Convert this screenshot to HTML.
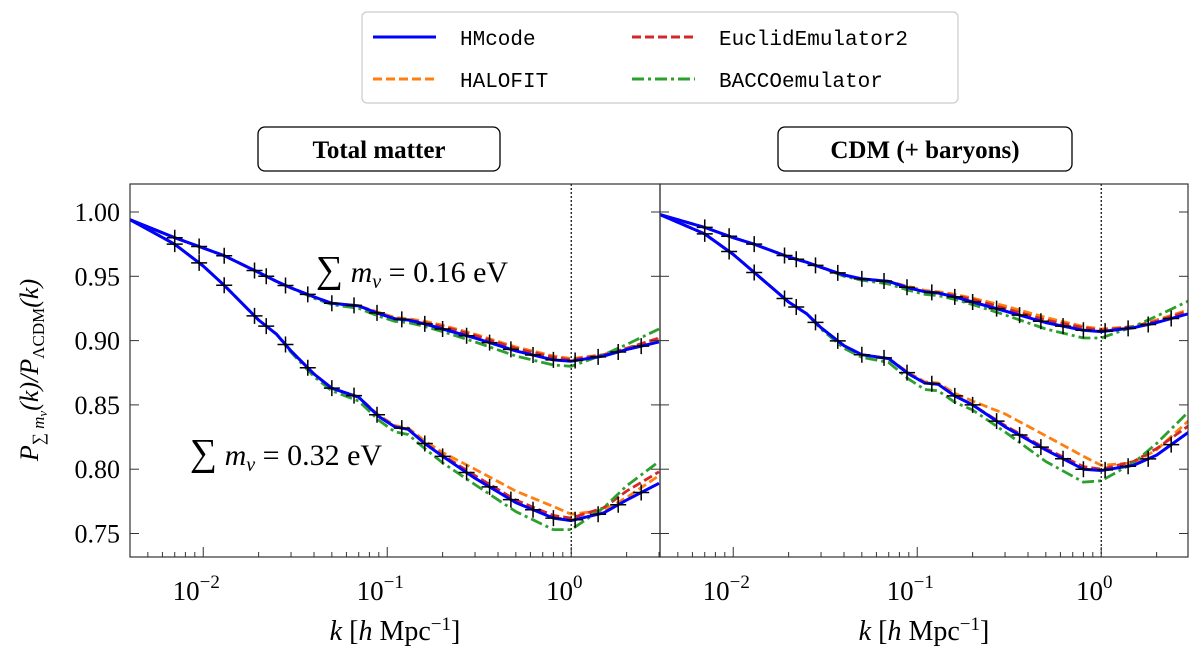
<!DOCTYPE html>
<html><head><meta charset="utf-8"><style>
body{margin:0;background:#fff;}
svg text{font-family:"Liberation Serif",serif;}
.mono{font-family:"Liberation Mono",monospace;}
</style></head><body>
<svg id="chart" width="1200" height="657" viewBox="0 0 1200 657" xmlns="http://www.w3.org/2000/svg">
<g>
<rect x="362" y="12" width="596" height="91" rx="5" fill="#fff" stroke="#ccc" stroke-width="1.2"/>
<g><line x1="373" y1="37" x2="436" y2="37" stroke="#0000ff" stroke-width="3"/><text class="mono" x="460" y="45" font-size="21">HMcode</text></g>
<g><line x1="373" y1="79" x2="436" y2="79" stroke="#ff7f0e" stroke-width="3" stroke-dasharray="9,4"/><text class="mono" x="460" y="87" font-size="21">HALOFIT</text></g>
<g><line x1="632" y1="37" x2="695" y2="37" stroke="#d62728" stroke-width="3" stroke-dasharray="9,4"/><text class="mono" x="719" y="45" font-size="21">EuclidEmulator2</text></g>
<g><line x1="632" y1="79" x2="695" y2="79" stroke="#2ca02c" stroke-width="3" stroke-dasharray="12,4,3,4"/><text class="mono" x="719" y="87" font-size="21">BACCOemulator</text></g>
</g>
<g><rect x="258" y="127" width="242" height="44" rx="7" fill="#fff" stroke="#000" stroke-width="1.3"/><text x="379" y="158" font-size="25" font-weight="bold" text-anchor="middle">Total matter</text></g>
<g><rect x="778" y="127" width="294" height="44" rx="7" fill="#fff" stroke="#000" stroke-width="1.3"/><text x="925" y="158" font-size="25" font-weight="bold" text-anchor="middle">CDM (+ baryons)</text></g>
<text transform="translate(38,370) rotate(-90)" font-size="26" text-anchor="middle" font-style="italic">P<tspan font-size="17" dy="6">∑ m</tspan><tspan font-size="13" dy="3">ν</tspan><tspan dy="-9">(k)/P</tspan><tspan font-size="17" dy="6" font-style="normal">ΛCDM</tspan><tspan dy="-6">(k)</tspan></text>
<g id="plots"></g>
</svg>
<script>
// shared x grid (k in h/Mpc)
const kL = [0.004,0.007,0.01,0.013,0.02,0.025,0.03,0.04,0.05,0.07,0.09,0.11,0.13,0.16,0.2,0.3,0.5,0.8,1.0,1.5,2,3];
// Total matter, sum m_nu = 0.16 eV
const tm16_hm  = [0.994,0.980,0.972,0.966,0.953,0.946,0.941,0.934,0.929,0.927,0.921,0.917,0.916,0.913,0.909,0.902,0.892,0.885,0.884,0.888,0.893,0.899];
const tm16_hf  = [0.994,0.980,0.972,0.966,0.953,0.946,0.941,0.934,0.929,0.927,0.922,0.918,0.917,0.915,0.912,0.905,0.895,0.888,0.886,0.889,0.894,0.901];
const tm16_ee  = [0.994,0.980,0.972,0.966,0.953,0.946,0.941,0.934,0.929,0.927,0.921,0.917,0.916,0.914,0.911,0.904,0.894,0.887,0.885,0.889,0.894,0.902];
const tm16_bc  = [0.994,0.980,0.972,0.966,0.953,0.946,0.941,0.933,0.928,0.925,0.919,0.915,0.914,0.911,0.907,0.899,0.888,0.881,0.880,0.889,0.897,0.909];
// Total matter, 0.32 eV
const tm32_hm  = [0.994,0.975,0.958,0.943,0.916,0.905,0.892,0.874,0.863,0.856,0.841,0.833,0.831,0.820,0.810,0.793,0.774,0.762,0.760,0.766,0.776,0.789];
const tm32_hf  = [0.994,0.975,0.958,0.943,0.916,0.905,0.892,0.874,0.863,0.856,0.842,0.834,0.832,0.822,0.813,0.800,0.783,0.771,0.765,0.768,0.778,0.795];
const tm32_ee  = [0.994,0.975,0.958,0.943,0.916,0.905,0.892,0.874,0.863,0.856,0.841,0.833,0.831,0.820,0.811,0.795,0.776,0.764,0.762,0.770,0.783,0.798];
const tm32_bc  = [0.994,0.975,0.958,0.943,0.916,0.905,0.891,0.872,0.861,0.853,0.838,0.829,0.827,0.816,0.805,0.788,0.767,0.753,0.753,0.770,0.787,0.806];
// CDM, 0.16 eV
const cd16_hm  = [0.998,0.988,0.980,0.975,0.965,0.961,0.957,0.951,0.948,0.946,0.941,0.938,0.937,0.934,0.930,0.923,0.914,0.908,0.907,0.910,0.914,0.921];
const cd16_hf  = [0.998,0.988,0.980,0.975,0.965,0.961,0.957,0.951,0.948,0.946,0.942,0.939,0.938,0.936,0.933,0.927,0.918,0.911,0.909,0.911,0.916,0.924];
const cd16_ee  = [0.998,0.988,0.980,0.975,0.965,0.961,0.957,0.951,0.948,0.946,0.941,0.938,0.937,0.935,0.932,0.925,0.916,0.910,0.908,0.911,0.915,0.923];
const cd16_bc  = [0.998,0.988,0.980,0.975,0.965,0.961,0.957,0.950,0.947,0.944,0.939,0.936,0.935,0.932,0.928,0.920,0.909,0.902,0.902,0.911,0.919,0.931];
// CDM, 0.32 eV
const cd32_hm  = [0.998,0.983,0.967,0.953,0.930,0.921,0.910,0.896,0.889,0.886,0.874,0.867,0.866,0.857,0.850,0.833,0.815,0.800,0.799,0.803,0.811,0.829];
const cd32_hf  = [0.998,0.983,0.967,0.953,0.930,0.921,0.910,0.896,0.889,0.886,0.875,0.868,0.867,0.859,0.853,0.843,0.826,0.810,0.803,0.805,0.815,0.838];
const cd32_ee  = [0.998,0.983,0.967,0.953,0.930,0.921,0.910,0.896,0.889,0.886,0.874,0.867,0.866,0.857,0.850,0.834,0.816,0.802,0.800,0.806,0.816,0.834];
const cd32_bc  = [0.998,0.983,0.967,0.953,0.930,0.921,0.909,0.894,0.887,0.883,0.870,0.862,0.861,0.852,0.846,0.829,0.806,0.790,0.791,0.805,0.820,0.845];
// simulation markers (k)
const markerK = [0.007,0.0095,0.013,0.019,0.022,0.028,0.037,0.05,0.066,0.088,0.12,0.16,0.2,0.27,0.36,0.47,0.62,0.8,1.05,1.4,1.8,2.4];
const yTicks = [0.75,0.80,0.85,0.90,0.95,1.00];
const yTickLabels = ["0.75","0.80","0.85","0.90","0.95","1.00"];
const xTicks = [0.01,0.1,1];
const xTickLabels = ["−2","−1","0"];

const NS="http://www.w3.org/2000/svg";
const root=document.getElementById('plots');
function el(tag,attrs,parent){const e=document.createElementNS(NS,tag);for(const a in attrs)e.setAttribute(a,attrs[a]);(parent||root).appendChild(e);return e;}
const plotTop=184,plotBot=557;
function yS(v){return 212+(1-v)*1286;}
function interp(arr,k){const lk=Math.log10(k);for(let i=0;i<kL.length-1;i++){const a=Math.log10(kL[i]),b=Math.log10(kL[i+1]);if(lk>=a&&lk<=b){return arr[i]+(arr[i+1]-arr[i])*(lk-a)/(b-a);}}return arr[arr.length-1];}
function path(arr,xS){let d='';for(let i=0;i<kL.length;i++){d+=(i?'L':'M')+xS(kL[i]).toFixed(1)+','+yS(arr[i]).toFixed(1);}return d;}

function panel(name,x0,x1,sets,leftLabels){
  const xS=k=>x0+(Math.log10(k)+2.398)*184;
  const g=el('g',{});
  
  
  const cp=el('clipPath',{id:'c'+name},g);el('rect',{x:x0,y:plotTop,width:x1-x0,height:plotBot-plotTop},cp);
  const lines=el('g',{'clip-path':'url(#c'+name+')'},g);
  const styles=[['hf','#ff7f0e','9,4'],['ee','#d62728','9,4'],['bc','#2ca02c','12,4,3,4'],['hm','#0000ff','']];
  sets.forEach(s=>{
    styles.forEach(st=>{
      const p=el('path',{d:path(s[st[0]],xS),fill:'none',stroke:st[1],'stroke-width':st[0]==='hm'?3:2.8,'stroke-dasharray':st[2]||'none','stroke-linejoin':'round'},lines);
      
      
    });
    markerK.forEach(k=>{
      const x=xS(k),y=yS(interp(s.hm,k));
      const m=el('path',{d:`M${x-8},${y}H${x+8}M${x},${y-8}V${y+8}`,stroke:'#000','stroke-width':1.5},lines);
      
      
    });
  });
  const vl=el('line',{x1:xS(1),x2:xS(1),y1:plotTop,y2:plotBot,stroke:'#000','stroke-width':1.2,'stroke-dasharray':'2,2'},g);
  
  
  const fr=el('rect',{x:x0,y:plotTop,width:x1-x0,height:plotBot-plotTop,fill:'none',stroke:'#333','stroke-width':1.2},g);
  
  
  yTicks.forEach((v,i)=>{
    const y=yS(v);
    el('line',{x1:x0,x2:x0+9,y1:y,y2:y,stroke:'#333','stroke-width':1},g);
    el('line',{x1:x1,x2:x1-9,y1:y,y2:y,stroke:'#333','stroke-width':1},g);
    if(leftLabels){const t=el('text',{x:x0-10,y:y+9,'font-size':26,'text-anchor':'end'},g);t.textContent=yTickLabels[i];
      
      }
  });
  for(let d=-3;d<=0;d++)for(let m=1;m<10;m++){const k=m*Math.pow(10,d);const x=xS(k);if(x<x0||x>x1)continue;
    el('line',{x1:x,x2:x,y1:plotBot,y2:plotBot-(m===1?10:5),stroke:'#333','stroke-width':1},g);}
  xTicks.forEach((k,i)=>{
    const t=el('text',{x:xS(k)-7,y:600,'font-size':27,'text-anchor':'middle'},g);
    t.innerHTML='10<tspan font-size="19" dy="-12">'+xTickLabels[i]+'</tspan>';
    
    
  });
  const xt=el('text',{x:(x0+x1)/2,y:640,'font-size':28,'text-anchor':'middle'},g);
  xt.innerHTML='<tspan font-style="italic">k</tspan> [<tspan font-style="italic">h</tspan> Mpc<tspan font-size="19" dy="-10">−1</tspan><tspan dy="10">]</tspan>';
  
  
}
panel('total-matter-panel',130,660,[{id:'mnu016',hm:tm16_hm,hf:tm16_hf,ee:tm16_ee,bc:tm16_bc},{id:'mnu032',hm:tm32_hm,hf:tm32_hf,ee:tm32_ee,bc:tm32_bc}],true);
panel('cdm-panel',660,1188,[{id:'mnu016',hm:cd16_hm,hf:cd16_hf,ee:cd16_ee,bc:cd16_bc},{id:'mnu032',hm:cd32_hm,hf:cd32_hf,ee:cd32_ee,bc:cd32_bc}],false);
const a1=el('text',{x:316,y:282,'font-size':30});
a1.innerHTML='<tspan font-size="38">∑</tspan> <tspan font-style="italic">m</tspan><tspan font-size="20" dy="6" font-style="italic">ν</tspan><tspan dy="-6"> = 0.16 eV</tspan>';


const a2=el('text',{x:190,y:465,'font-size':30});
a2.innerHTML='<tspan font-size="38">∑</tspan> <tspan font-style="italic">m</tspan><tspan font-size="20" dy="6" font-style="italic">ν</tspan><tspan dy="-6"> = 0.32 eV</tspan>';


</script>
</body></html>
